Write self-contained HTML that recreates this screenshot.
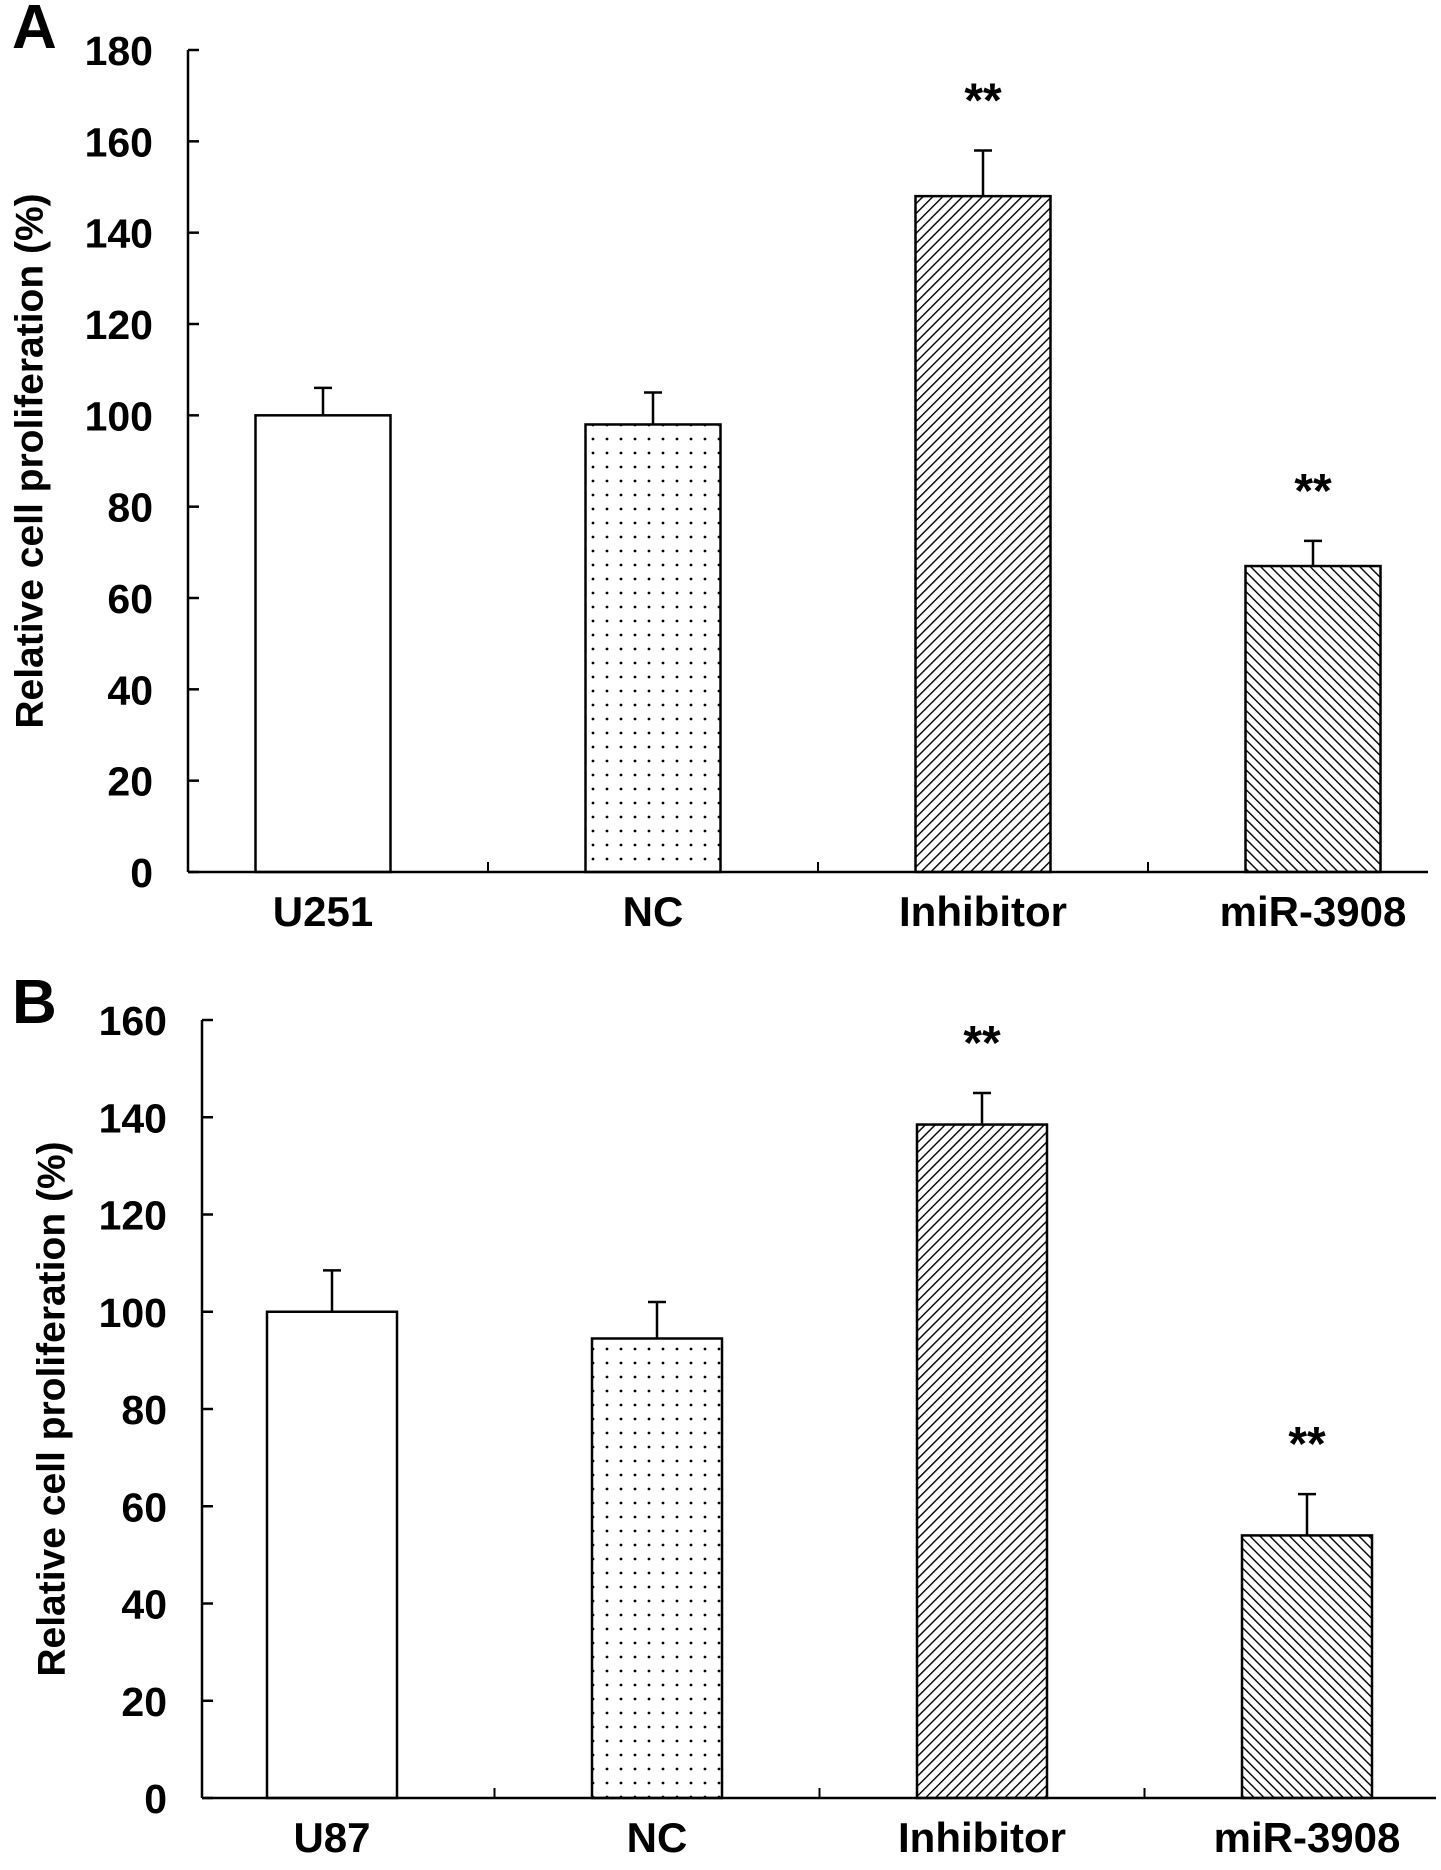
<!DOCTYPE html>
<html><head><meta charset="utf-8">
<style>
html,body{margin:0;padding:0;background:#fff;}
svg{display:block;font-family:"Liberation Sans",Arial,sans-serif;font-weight:bold;}
</style></head>
<body>
<svg id="fig" width="1441" height="1870" viewBox="0 0 1441 1870" xmlns="http://www.w3.org/2000/svg">
<defs>
<pattern id="dots" width="14" height="14" patternUnits="userSpaceOnUse"><circle cx="5" cy="5" r="1.4" fill="#000"/></pattern>
<pattern id="hatchR" width="7" height="7" patternUnits="userSpaceOnUse" patternTransform="rotate(45)"><line x1="0" y1="0" x2="0" y2="7" stroke="#000" stroke-width="2.8"/></pattern>
<pattern id="hatchL" width="7" height="7" patternUnits="userSpaceOnUse" patternTransform="rotate(-45)"><line x1="0" y1="0" x2="0" y2="7" stroke="#000" stroke-width="2.8"/></pattern>
</defs>
</svg>
<script>
const categoriesA = ["U251","NC","Inhibitor","miR-3908"];
const valuesA = [100, 98, 148, 67];
const errorsA = [6, 7, 10, 5.5];
const starsA = ["", "", "**", "**"];
const ticksA = [0,20,40,60,80,100,120,140,160,180];

const categoriesB = ["U87","NC","Inhibitor","miR-3908"];
const valuesB = [100, 94.5, 138.5, 54];
const errorsB = [8.5, 7.5, 6.5, 8.5];
const starsB = ["", "", "**", "**"];
const ticksB = [0,20,40,60,80,100,120,140,160];

const fills = ["#fff","url(#dots)","url(#hatchR)","url(#hatchL)"];
const NS = "http://www.w3.org/2000/svg";
const svg = document.getElementById('fig');
function mk(tag, attrs, parent){
  const e = document.createElementNS(NS, tag);
  for (const k in attrs) e.setAttribute(k, attrs[k]);
  (parent||svg).appendChild(e);
  return e;
}

function panel(cfg, cats, vals, errs, stars, ticks){
  const g = mk('g', {});
  
  
  const ymax = ticks[ticks.length-1];
  const y = v => cfg.y0 - (v/ymax)*(cfg.y0-cfg.yTop);
  const step = cfg.step;
  const cx = i => cfg.c0 + i*step;
  const L = mk('text', {x:cfg.letterX, y:cfg.letterY, 'font-size':62, fill:'#000'}, g);
  L.textContent = cfg.letter;
  
  
  const my = (cfg.y0+cfg.yTop)/2 + cfg.titleDy;
  const tt = mk('text', {x:cfg.titleX, y:my, 'font-size':39, 'text-anchor':'middle', transform:`rotate(-90 ${cfg.titleX} ${my})`, 'dominant-baseline':'middle', fill:'#000'}, g);
  tt.textContent = 'Relative cell proliferation (%)';
  
  
  cats.forEach((c,i)=>{
    const top = y(vals[i]);
    const r = mk('rect', {x:cx(i)-cfg.bw/2, y:top, width:cfg.bw, height:cfg.y0-top, fill:fills[i], stroke:'#000', 'stroke-width':2.5}, g);
    
    
    const et = y(vals[i]+errs[i]);
    const eb = mk('path', {d:`M${cx(i)} ${top} V${et} M${cx(i)-9} ${et} H${cx(i)+9}`, stroke:'#000', 'stroke-width':2.5, fill:'none'}, g);
    
    
    if (stars[i]) {
      const s = mk('text', {x:cx(i), y:et-34, 'font-size':48, 'text-anchor':'middle', fill:'#000'}, g);
      s.textContent = stars[i];
      
      
    }
    const lab = mk('text', {x:cx(i), y:cfg.y0+54, 'font-size':42, 'text-anchor':'middle', fill:'#000'}, g);
    lab.textContent = c;
    
    
    if (i < cats.length-1) {
      const tk = mk('line', {x1:cx(i)+step/2, x2:cx(i)+step/2, y1:cfg.y0, y2:cfg.y0-10, stroke:'#000', 'stroke-width':2}, g);
      
      
    }
  });
  const ya = mk('line', {x1:cfg.ax, x2:cfg.ax, y1:cfg.yTop, y2:cfg.y0, stroke:'#000', 'stroke-width':2.5}, g);
  
  
  ticks.forEach(t=>{
    const tk = mk('line', {x1:cfg.ax, x2:cfg.ax+11, y1:y(t), y2:y(t), stroke:'#000', 'stroke-width':2.5}, g);
    
    
    const tl = mk('text', {x:cfg.ax-35, y:y(t)+15, 'font-size':41, 'text-anchor':'end', fill:'#000'}, g);
    tl.textContent = t;
    
    
  });
  const xa = mk('line', {x1:cfg.ax, x2:cfg.xEnd, y1:cfg.y0, y2:cfg.y0, stroke:'#000', 'stroke-width':2.5}, g);
  
  
}

panel({letter:'A', letterX:12, letterY:48, titleX:32, titleDy:0, ax:188, yTop:50, y0:872, c0:323, step:330, bw:135, xEnd:1428}, categoriesA, valuesA, errorsA, starsA, ticksA);
panel({letter:'B', letterX:12, letterY:1023, titleX:54, titleDy:0, ax:202, yTop:1020, y0:1798, c0:332, step:325, bw:130, xEnd:1436}, categoriesB, valuesB, errorsB, starsB, ticksB);
</script>
</body></html>
